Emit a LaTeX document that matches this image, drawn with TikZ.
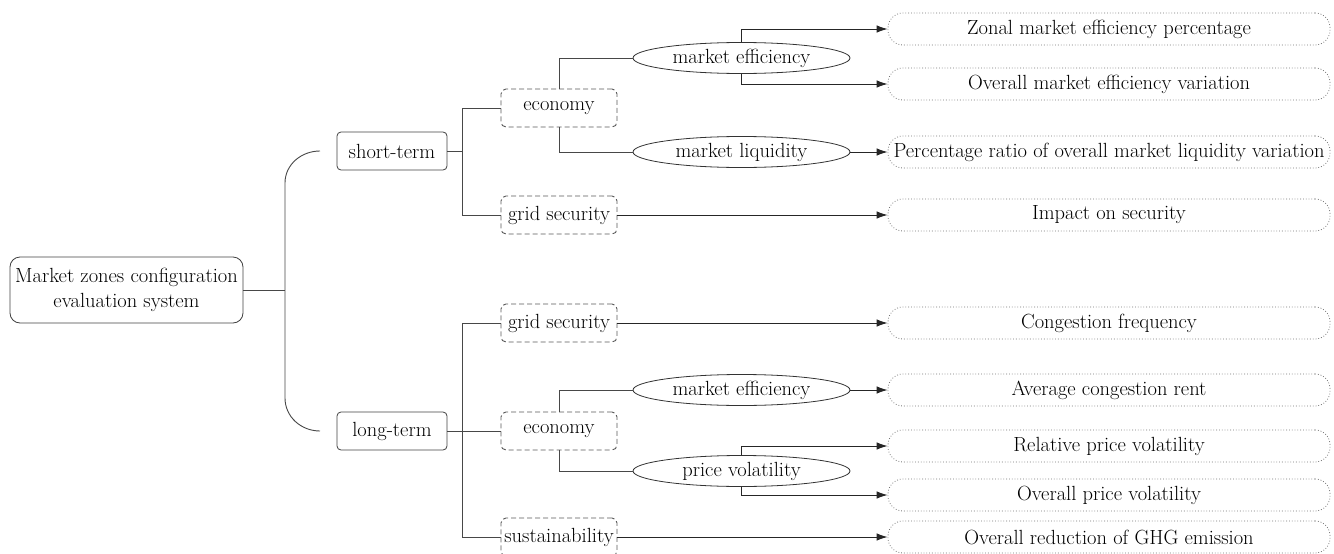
\documentclass[tikz,border=0pt]{standalone}
\usepackage{fontspec}
\usetikzlibrary{shapes.geometric,arrows.meta}
\begin{document}
\begin{tikzpicture}[x=1pt,y=-1pt, font=\rmfamily\fontsize{20.5}{25}\selectfont,
 conn/.style={draw=black!72, line width=0.9pt},
 arr/.style={draw=black!85, line width=0.9pt, -{Latex[length=11pt,width=7.5pt]}},
 rootbox/.style={draw=black!75, rounded corners=10pt, minimum width=233pt, minimum height=66pt, align=center, inner sep=0pt, line width=0.8pt},
 termbox/.style={draw=black!75, rounded corners=4pt, minimum width=110pt, minimum height=38pt, inner sep=0pt, line width=0.8pt},
 catbox/.style={draw=black!65, dash pattern=on 5pt off 3pt, rounded corners=5pt, minimum width=116pt, minimum height=38pt, inner sep=0pt, line width=0.9pt},
 subell/.style={draw=black!80, ellipse, minimum width=217pt, minimum height=31pt, inner sep=0pt, line width=0.8pt},
 leaf/.style={draw=black!55, dotted, rounded corners=15pt, minimum width=442pt, minimum height=32pt, inner sep=0pt, line width=0.8pt}]
\useasboundingbox (0,0) rectangle (1334,554);

% root and brace
\node[rootbox] (root) at (126.5,290) {Market zones configuration\\evaluation system};
\coordinate (bc) at (285,290);
\coordinate (bt) at (285,183);
\coordinate (bb) at (285,398);
\coordinate (stL) at (320,151);
\coordinate (ltL) at (320,431);
\draw[conn] (root.east) -- (bc);
\draw[conn] (stL) to[out=180,in=90] (bt) -- (bb) to[out=-90,in=180] (ltL);

% terms
\node[termbox] (st) at (392,151) {short-term};
\node[termbox] (lt) at (392,431) {long-term};

% categories
\node[catbox] (eco1) at (559,108) {economy};
\node[catbox] (gs1) at (559,215) {grid security};
\node[catbox] (gs2) at (559,323) {grid security};
\node[catbox] (eco2) at (559,431) {economy};
\node[catbox] (sus) at (559,537) {sustainability};

% sub-criteria
\node[subell] (me1) at (741.5,58) {market efficiency};
\node[subell] (ml1) at (741.5,152) {market liquidity};
\node[subell] (me2) at (741.5,390) {market efficiency};
\node[subell] (pv) at (741.5,471) {price volatility};

% leaves
\node[leaf] (zon) at (1109,29) {Zonal market efficiency percentage};
\node[leaf] (ome) at (1109,84) {Overall market efficiency variation};
\node[leaf] (per) at (1109,152) {Percentage ratio of overall market liquidity variation};
\node[leaf] (imp) at (1109,215) {Impact on security};
\node[leaf] (con) at (1109,323) {Congestion frequency};
\node[leaf] (avg) at (1109,390) {Average congestion rent};
\node[leaf] (rel) at (1109,446) {Relative price volatility};
\node[leaf] (opv) at (1109,495) {Overall price volatility};
\node[leaf] (red) at (1109,537) {Overall reduction of GHG emission};

% short-term connectors
\draw[conn] (st.east) -- ++(15,0) coordinate (j1);
\draw[conn] (j1) |- (eco1.west);
\draw[conn] (j1) |- (gs1.west);
\draw[conn] (eco1.north) |- (me1.west);
\draw[conn] (eco1.south) |- (ml1.west);
\draw[arr] (me1.north) |- (zon.west);
\draw[arr] (me1.south) |- (ome.west);
\draw[arr] (ml1.east) -- (per.west);
\draw[arr] (gs1.east) -- (imp.west);

% long-term connectors
\draw[conn] (lt.east) -- ++(15,0) coordinate (j2);
\draw[conn] (j2) |- (gs2.west);
\draw[conn] (j2) |- (eco2.west);
\draw[conn] (j2) |- (sus.west);
\draw[conn] (eco2.north) |- (me2.west);
\draw[conn] (eco2.south) |- (pv.west);
\draw[arr] (gs2.east) -- (con.west);
\draw[arr] (me2.east) -- (avg.west);
\draw[arr] (pv.north) |- (rel.west);
\draw[arr] (pv.south) |- (opv.west);
\draw[arr] (sus.east) -- (red.west);
\end{tikzpicture}
\end{document}
